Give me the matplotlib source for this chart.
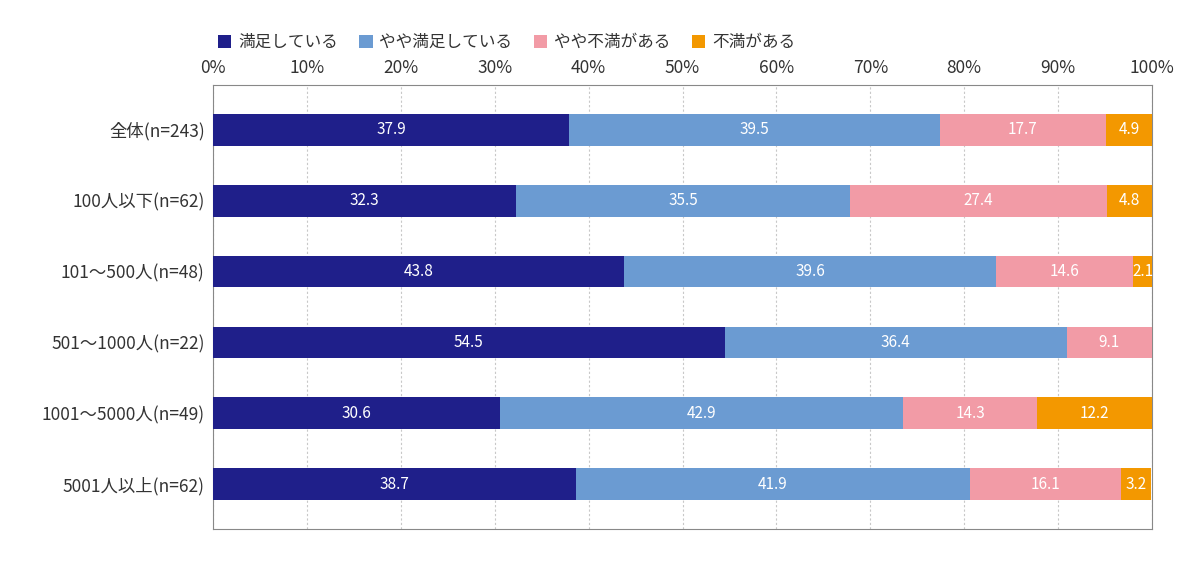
import matplotlib
matplotlib.use("Agg")
import matplotlib.pyplot as plt
import numpy as np

plt.rcParams['font.family'] = ['Noto Sans CJK JP', 'DejaVu Sans']

categories = ["全体(n=243)", "100人以下(n=62)", "101～500人(n=48)",
              "501～1000人(n=22)", "1001～5000人(n=49)", "5001人以上(n=62)"]
series_names = ["満足している", "やや満足している", "やや不満がある", "不満がある"]
satisfied = [37.9, 32.3, 43.8, 54.5, 30.6, 38.7]
somewhat_satisfied = [39.5, 35.5, 39.6, 36.4, 42.9, 41.9]
somewhat_unsatisfied = [17.7, 27.4, 14.6, 9.1, 14.3, 16.1]
unsatisfied = [4.9, 4.8, 2.1, 0.0, 12.2, 3.2]
x_ticks = [0, 10, 20, 30, 40, 50, 60, 70, 80, 90, 100]

colors = ["#1f1f8a", "#6b9bd2", "#f29ba6", "#f39800"]
series = [satisfied, somewhat_satisfied, somewhat_unsatisfied, unsatisfied]

fig = plt.figure(figsize=(12, 5.69), dpi=100)
ax = fig.add_axes([213 / 1200, 40 / 569, 939 / 1200, 444 / 569])

y = np.arange(len(categories))
left = np.zeros(len(categories))
for vals, name, col in zip(series, series_names, colors):
    vals = np.array(vals)
    ax.barh(y, vals, left=left, height=0.45, color=col, label=name, zorder=3)
    for yi, (l, v) in enumerate(zip(left, vals)):
        if v > 0:
            ax.text(l + v / 2, yi, f"{v:.1f}", ha="center", va="center",
                    color="white", fontsize=11, zorder=4)
    left += vals

ax.set_xlim(0, 100)
ax.set_ylim(5.63, -0.63)
ax.set_yticks(y)
ax.set_yticklabels(categories, fontsize=12.5, color="#333333")
ax.set_xticks(x_ticks)
ax.set_xticklabels([f"{t}%" for t in x_ticks], fontsize=12.5, color="#333333")
ax.xaxis.tick_top()
ax.tick_params(length=0, pad=6)
ax.tick_params(axis="y", pad=6)
ax.grid(axis="x", linestyle=(0, (2, 2)), color="#c8c8c8", linewidth=0.8, zorder=0)
for s in ax.spines.values():
    s.set_color("#888888")
    s.set_linewidth(0.8)

fig.legend(loc="upper left", bbox_to_anchor=(203 / 1200, 1 - 19 / 569), ncol=4,
           frameon=False, fontsize=12, handlelength=0.8, handleheight=0.8,
           handletextpad=0.4, columnspacing=1.3, labelcolor="#333333")

fig.savefig("out.png", dpi=100)
